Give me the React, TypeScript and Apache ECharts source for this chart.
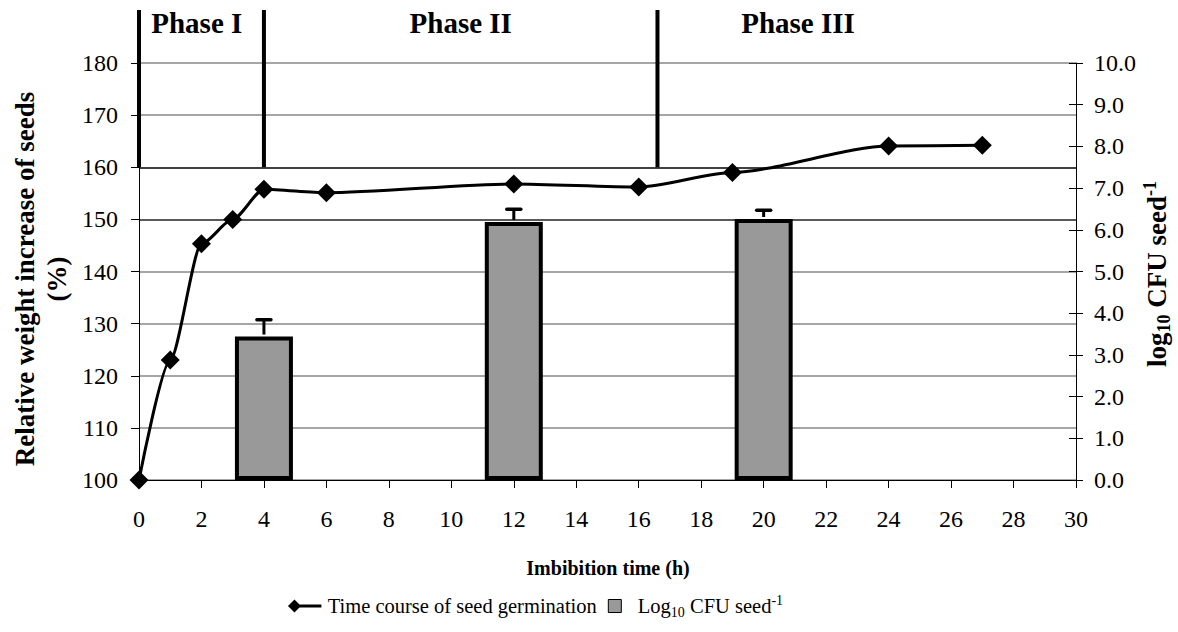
import React, { useEffect, useRef } from 'react';
import * as echarts from 'echarts';

// Time course of seed germination (relative weight increase, %)
const timeHours = [0, 1, 2, 3, 4, 6, 12, 16, 19, 24, 27];
const weightIncrease = [100, 123, 145.3, 150, 155.8, 155.1, 156.8, 156.2, 159, 164.1, 164.2];

// log10 CFU per seed (bars) with upper error
const cfuHours = [4, 12, 20];
const cfuLog = [3.44, 6.19, 6.26];
const cfuError = [0.4, 0.3, 0.21];

// Phases
const phaseBounds = [0, 4, 16.6];
const phaseNames = ['Phase I', 'Phase II', 'Phase III'];
const phaseLabelAt = [1.85, 10.3, 21.1];

const lineName = 'Time course of seed germination';
const barName = 'Log10 CFU seed-1';

const FONT = '"Liberation Serif", "Times New Roman", serif';

export default function App() {
  const ref = useRef<HTMLDivElement>(null);
  useEffect(() => {
    const chart = echarts.init(ref.current!, null, { renderer: 'svg' });
    const option: any = {
      animation: false,
      backgroundColor: '#fff',
      textStyle: { fontFamily: FONT },
      grid: { left: 139, right: 102, top: 63, bottom: 152, containLabel: false },
      legend: {
        top: 588,
        left: 283,
        itemWidth: 36,
        itemHeight: 13,
        itemGap: 11,
        data: [
          { name: lineName, icon: 'path://M0,7 L7,0 L14,7 L7,14 Z M7,5.5 H36 V8.5 H7 Z' },
          { name: barName, icon: 'path://M0,0 H10 V10 H0 Z', itemStyle: { borderWidth: 1, borderColor: '#000' } },
        ],
        formatter: (name: string) =>
          name === barName ? '{n|Log}{sub|10}{n| CFU seed}{sup|-1}' : '{n|' + name + '}',
        textStyle: {
          fontFamily: FONT,
          color: '#000',
          rich: {
            n: { fontFamily: FONT, fontSize: 20.5, color: '#000' },
            sub: { fontFamily: FONT, fontSize: 14, color: '#000', padding: [12, 0, 0, 0] },
            sup: { fontFamily: FONT, fontSize: 14, color: '#000', padding: [0, 0, 12, 0] },
          },
        },
      },
      xAxis: {
        type: 'value',
        min: 0,
        max: 30,
        interval: 2,
        axisLine: { show: true, lineStyle: { color: '#000', width: 1 } },
        axisTick: { show: true, length: 8, lineStyle: { color: '#000' } },
        axisLabel: { fontFamily: FONT, fontSize: 24, color: '#000', margin: 27 },
        splitLine: { show: false },
      },
      yAxis: [
        {
          type: 'value',
          min: 100,
          max: 180,
          interval: 10,
          position: 'left',
          axisLine: { show: true, lineStyle: { color: '#000', width: 1 } },
          axisTick: { show: true, length: 8, lineStyle: { color: '#000' } },
          axisLabel: { fontFamily: FONT, fontSize: 24, color: '#000', margin: 21 },
          splitLine: {
            show: true,
            lineStyle: {
              color: ['#888', '#888', '#888', '#888', '#888', '#222', '#000', '#888', '#888'],
              width: 1.5,
            },
          },
        },
        {
          type: 'value',
          min: 0,
          max: 10,
          interval: 1,
          position: 'right',
          axisLine: { show: true, lineStyle: { color: '#000', width: 1 } },
          axisTick: { show: true, length: 7, lineStyle: { color: '#000' } },
          axisLabel: {
            fontFamily: FONT,
            fontSize: 24,
            color: '#000',
            margin: 18,
            formatter: (v: number) => v.toFixed(1),
          },
          splitLine: { show: false },
        },
        {
          type: 'value',
          min: 0,
          max: 10,
          interval: 1,
          position: 'right',
          axisLine: { show: false },
          axisTick: { show: true, inside: true, length: 7, lineStyle: { color: '#000' } },
          axisLabel: { show: false },
          splitLine: { show: false },
        },
      ],
      graphic: [
        {
          type: 'text',
          x: 41,
          y: 279,
          rotation: Math.PI / 2,
          style: {
            text: 'Relative weight increase of seeds\n(%)',
            fontFamily: FONT,
            fontSize: 27,
            fontWeight: 'bold',
            lineHeight: 32,
            fill: '#000',
            align: 'center',
            verticalAlign: 'middle',
          },
        },
        {
          type: 'text',
          x: 608,
          y: 568,
          style: {
            text: 'Imbibition time (h)',
            fontFamily: FONT,
            fontSize: 20,
            fontWeight: 'bold',
            fill: '#000',
            align: 'center',
            verticalAlign: 'middle',
          },
        },
        {
          type: 'text',
          x: 1157,
          y: 274,
          rotation: Math.PI / 2,
          style: {
            text: '{b|log}{s|10}{b| CFU seed}{p|-1}',
            align: 'center',
            verticalAlign: 'middle',
            rich: {
              b: { fontFamily: FONT, fontSize: 27, fontWeight: 'bold', fill: '#000' },
              s: { fontFamily: FONT, fontSize: 18, fontWeight: 'bold', fill: '#000', padding: [14, 0, 0, 0] },
              p: { fontFamily: FONT, fontSize: 18, fontWeight: 'bold', fill: '#000', padding: [0, 0, 14, 0] },
            },
          },
        },
      ],
      series: [
        {
          name: barName,
          type: 'bar',
          xAxisIndex: 0,
          yAxisIndex: 1,
          barWidth: 58,
          data: cfuHours.map((h, i) => [h, cfuLog[i]]),
          itemStyle: { color: '#999999', borderColor: '#000', borderWidth: 4 },
          z: 2,
        },
        {
          name: 'error',
          type: 'custom',
          xAxisIndex: 0,
          yAxisIndex: 1,
          z: 3,
          silent: true,
          data: cfuHours.map((h, i) => [h, cfuLog[i], cfuError[i]]),
          renderItem: (params: any, api: any) => {
            const x = api.value(0);
            const v = api.value(1);
            const e = api.value(2);
            const base = api.coord([x, v]);
            const top = api.coord([x, v + e]);
            return {
              type: 'group',
              children: [
                {
                  type: 'line',
                  shape: { x1: base[0], y1: base[1] - 2, x2: top[0], y2: top[1] },
                  style: { stroke: '#000', lineWidth: 3 },
                },
                {
                  type: 'line',
                  shape: { x1: top[0] - 7, y1: top[1], x2: top[0] + 7, y2: top[1] },
                  style: { stroke: '#000', lineWidth: 3.5, lineCap: 'round' },
                },
              ],
            };
          },
        },
        {
          name: lineName,
          type: 'line',
          xAxisIndex: 0,
          yAxisIndex: 0,
          data: timeHours.map((t, i) => [t, weightIncrease[i]]),
          smooth: 0.25,
          smoothMonotone: 'x',
          symbol: 'diamond',
          symbolSize: 19,
          itemStyle: { color: '#000' },
          lineStyle: { color: '#000', width: 3 },
          z: 5,
        },
        {
          name: 'phaseLines',
          type: 'custom',
          xAxisIndex: 0,
          yAxisIndex: 0,
          clip: false,
          silent: true,
          z: 4,
          data: phaseBounds.map((b) => [b, 160]),
          renderItem: (params: any, api: any) => {
            const p = api.coord([api.value(0), api.value(1)]);
            return {
              type: 'line',
              shape: { x1: p[0], y1: p[1], x2: p[0], y2: 10 },
              style: { stroke: '#000', lineWidth: 4 },
            };
          },
        },
        {
          name: 'phaseLabels',
          type: 'custom',
          xAxisIndex: 0,
          yAxisIndex: 0,
          clip: false,
          silent: true,
          z: 4,
          data: phaseLabelAt.map((x) => [x, 180]),
          renderItem: (params: any, api: any) => {
            const p = api.coord([api.value(0), api.value(1)]);
            return {
              type: 'text',
              x: p[0],
              y: 23,
              style: {
                text: phaseNames[params.dataIndex],
                fontFamily: FONT,
                fontSize: 29,
                fontWeight: 'bold',
                fill: '#000',
                align: 'center',
                verticalAlign: 'middle',
              },
            };
          },
        },
      ],
    };
    chart.setOption(option);
    return () => chart.dispose();
  }, []);
  return (
    <div
      ref={ref}
      style={{ position: 'fixed', left: 0, top: 0, width: 1178, height: 632, background: '#fff' }}
    />
  );
}
